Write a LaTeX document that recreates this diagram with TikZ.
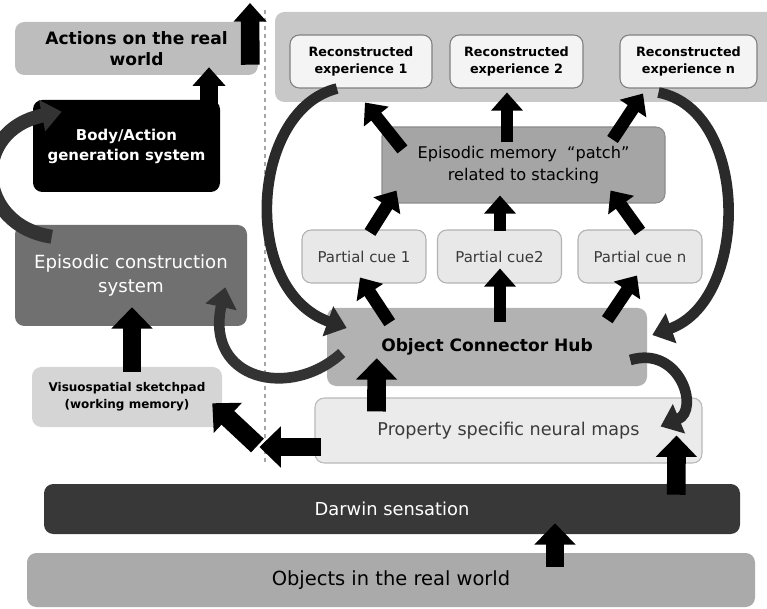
\documentclass[tikz,border=0pt]{standalone}
\usepackage{fontspec}
\setmainfont{DejaVu Sans}
\usetikzlibrary{arrows.meta,calc}

\definecolor{actgray}{HTML}{BDBDBD}
\definecolor{bandgray}{HTML}{C8C8C8}
\definecolor{recfill}{HTML}{F4F4F4}
\definecolor{patchgray}{HTML}{A5A5A5}
\definecolor{cuefill}{HTML}{E8E8E8}
\definecolor{hubgray}{HTML}{B2B2B2}
\definecolor{mapfill}{HTML}{EBEBEB}
\definecolor{darwingray}{HTML}{383838}
\definecolor{objgray}{HTML}{AAAAAA}
\definecolor{epigray}{HTML}{707070}
\definecolor{visgray}{HTML}{D5D5D5}
\definecolor{curvegray}{HTML}{2A2A2A}
\definecolor{textgray}{HTML}{3A3A3A}

\tikzset{
  box/.style={rounded corners=7pt, inner sep=2pt, align=center},
  thinline/.style={draw=#1, line width=0.8pt},
  bigarr/.style={line width=14pt, -{Triangle[width=30pt, length=16pt]}},
  toparr/.style={line width=14pt, -{Triangle[width=24pt, length=14pt]}},
  midarr/.style={line width=9.5pt, -{Triangle[width=23pt, length=13.5pt]}},
  curvearr/.style={curvegray, line width=8pt, -{Triangle[width=23pt, length=15pt]}},
}

\begin{document}
\begin{tikzpicture}[x=0.75pt, y=-0.75pt]
  \useasboundingbox (0,0) rectangle (767,609);

  % left column
  \node[box, fill=actgray, minimum width=182.25pt, minimum height=39.75pt,
    font=\bfseries\fontsize{12.8}{15.5}\selectfont] (actions) at (136.5,48.5)
    {Actions on the real\\world};
  \node[box, fill=black, text=white, minimum width=140.25pt, minimum height=69pt,
    font=\bfseries\fontsize{11.2}{15}\selectfont] (body) at (126.5,146)
    {Body/Action\\generation system};
  \node[box, fill=epigray, text=white, minimum width=174pt, minimum height=75.75pt,
    font=\fontsize{13.6}{18}\selectfont] (episys) at (131,275.5)
    {Episodic construction\\system};
  \node[box, fill=visgray, minimum width=142.5pt, minimum height=45pt,
    font=\bfseries\fontsize{9}{12.5}\selectfont] (visuo) at (127,397)
    {Visuospatial sketchpad\\(working memory)};

  \draw[gray!70, dashed, line width=1.5pt] (265,10) -- (265,465);

  % right block
  \node[box, fill=bandgray, minimum width=390pt, minimum height=67.5pt] (band) at (535,57) {};
  \foreach \nm/\cx/\bw/\lb in {rec1/361/106.5/1, rec2/516.5/99.75/2, recn/688.5/102.75/n}
    \node[box, fill=recfill, thinline=gray, minimum width=\bw pt, minimum height=39.75pt,
      font=\bfseries\fontsize{9.6}{13}\selectfont] (\nm) at (\cx,61.5)
      {Reconstructed\\experience \lb};
  \node[box, fill=patchgray, thinline=gray!90, minimum width=212.25pt, minimum height=57pt,
    font=\fontsize{12.1}{16}\selectfont] (patch) at (523.5,165)
    {Episodic memory \ “patch”\\related to stacking};
  \foreach \nm/\cx/\lb in {cue1/364/Partial cue 1, cue2/499.5/Partial cue2, cuen/640/Partial cue n}
    \node[box, fill=cuefill, thinline=gray!60, text=textgray, minimum width=93pt,
      minimum height=39.75pt, font=\fontsize{11.2}{13}\selectfont] (\nm) at (\cx,256.5) {\lb};
  \node[box, fill=hubgray, minimum width=240pt, minimum height=58.5pt,
    font=\bfseries\fontsize{12.8}{15}\selectfont] (hub) at (487,347) {Object Connector Hub};
  \node[box, fill=mapfill, thinline=gray!55, text=textgray, minimum width=290.25pt,
    minimum height=48.75pt, font=\fontsize{13.2}{15}\selectfont] (maps) at (508.5,430.5)
    {Property specific neural maps};

  % bottom bars
  \node[box, fill=darwingray, text=white, minimum width=522pt, minimum height=37.5pt,
    font=\fontsize{13.4}{15}\selectfont] (darwin) at (392,509) {Darwin sensation};
  \node[box, fill=objgray, minimum width=546pt, minimum height=40.5pt,
    font=\fontsize{14.6}{17}\selectfont] (objects) at (391,580) {Objects in the real world};

  \coordinate (exit) at (250,3);

  % straight block arrows
  \draw[toparr] ($(actions.north east)+(-8,43)$) -- (exit);
  \draw[toparr] ($(body.north)+(82.5,15)$) -- ($(actions.south)+(72.5,-8)$);
  \draw[bigarr] ($(visuo.north)+(5,5)$) -- ($(episys.south)+(1,-19)$);
  \draw[bigarr] ($(maps.south west)+(-57,-18)$) -- ($(visuo.south east)+(-10,-24)$);
  \draw[bigarr] ($(maps.west)+(7,16.5)$) -- ($(maps.west)+(-55,16.5)$);
  \draw[bigarr] ($(maps.north west)+(62,14)$) -- ($(hub.south west)+(50,-28)$);
  \draw[bigarr] ($(darwin.north east)+(-64,11)$) -- ($(maps.south east)+(-26,-28)$);
  \draw[bigarr] ($(objects.north)+(164,14)$) -- ($(darwin.south)+(163,-11)$);

  \draw[midarr] ($(hub.north west)+(63,15)$) -- ($(cue1.south)+(-4,-6)$);
  \draw[midarr] ($(hub.north)+(13,14)$) -- ($(cue2.south)+(0.5,-15)$);
  \draw[midarr] ($(hub.north east)+(-40,12)$) -- ($(cuen.south)+(-3,-8)$);
  \draw[midarr] ($(cue1.north)+(6,3)$) -- ($(patch.south west)+(15,-13)$);
  \draw[midarr] ($(cue2.north)+(0.5,2)$) -- ($(patch.south)+(-23.5,-8)$);
  \draw[midarr] ($(cuen.north)+(0,2)$) -- ($(patch.south east)+(-55,-13)$);
  \draw[midarr] ($(patch.north west)+(21,23)$) -- ($(rec1.south)+(4,14)$);
  \draw[midarr] ($(patch.north)+(-16.5,16)$) -- ($(rec2.south)+(-9.5,4)$);
  \draw[midarr] ($(patch.north east)+(-53,13)$) -- ($(recn.south)+(-45.5,5)$);

  % curved arrows
  \draw[curvearr] ($(rec1.south)+(-24,0)$) .. controls (250,110) and (240,290) .. ($(hub.west)+(20,-19)$);
  \draw[curvearr] ($(recn.south)+(-30,4)$) .. controls (750,110) and (750,300) .. ($(hub.east)+(5,-12)$);
  \draw[curvearr] ($(hub.east)+(-17,13)$) .. controls (680,345) and (700,410) .. ($(maps.north east)+(-42,29)$);
  \draw[curvearr, draw=black!80] ($(hub.west)+(15,6)$) .. controls (290,400) and (205,380) .. ($(episys.south east)+(-22,-39)$);
  \draw[curvearr, draw=black!80, line width=10.5pt] ($(episys.north west)+(37,12)$) .. controls (-25,225) and (-30,130) .. ($(body.north west)+(29,12)$);
\end{tikzpicture}
\end{document}
